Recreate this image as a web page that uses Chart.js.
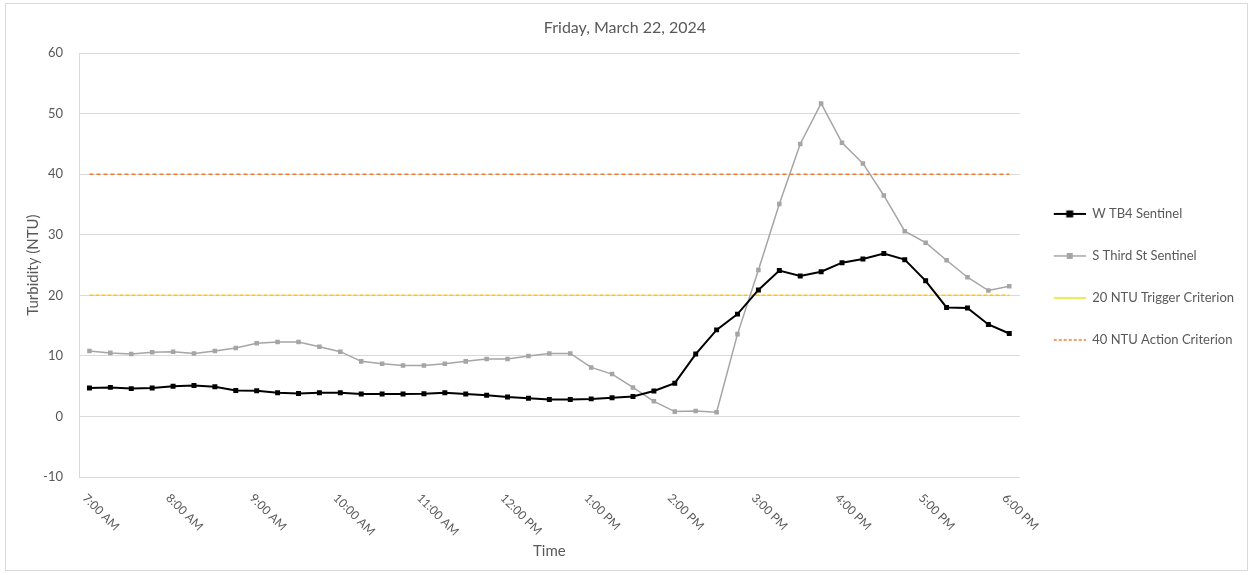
<!DOCTYPE html>
<html>
<head>
<meta charset="utf-8">
<script src="https://cdn.jsdelivr.net/npm/chart.js@4.4.1/dist/chart.umd.min.js"></script>
<style>
html,body{margin:0;padding:0;background:#ffffff;}
#wrap{position:relative;width:1253px;height:575px;}
</style>
</head>
<body>
<div id="wrap"><canvas id="c"></canvas></div>
<script>
// ---- data ----
const timeLabels = [
  '7:00 AM','7:15 AM','7:30 AM','7:45 AM',
  '8:00 AM','8:15 AM','8:30 AM','8:45 AM',
  '9:00 AM','9:15 AM','9:30 AM','9:45 AM',
  '10:00 AM','10:15 AM','10:30 AM','10:45 AM',
  '11:00 AM','11:15 AM','11:30 AM','11:45 AM',
  '12:00 PM','12:15 PM','12:30 PM','12:45 PM',
  '1:00 PM','1:15 PM','1:30 PM','1:45 PM',
  '2:00 PM','2:15 PM','2:30 PM','2:45 PM',
  '3:00 PM','3:15 PM','3:30 PM','3:45 PM',
  '4:00 PM','4:15 PM','4:30 PM','4:45 PM',
  '5:00 PM','5:15 PM','5:30 PM','5:45 PM',
  '6:00 PM'
];
const wTB4Sentinel = [
  4.7, 4.8, 4.6, 4.7, 5.0, 5.1, 4.9, 4.3, 4.25, 3.9, 3.8, 3.9,
  3.9, 3.7, 3.7, 3.7, 3.75, 3.9, 3.7, 3.5, 3.2, 3.0, 2.8, 2.8,
  2.9, 3.1, 3.3, 4.2, 5.5, 10.3, 14.3, 16.9, 20.9, 24.1, 23.2, 23.9,
  25.4, 26.0, 26.9, 25.9, 22.4, 18.0, 17.9, 15.2, 13.7
];
const sThirdStSentinel = [
  10.8, 10.5, 10.3, 10.6, 10.7, 10.4, 10.8, 11.3, 12.1, 12.3, 12.3, 11.5,
  10.7, 9.1, 8.7, 8.4, 8.4, 8.7, 9.1, 9.5, 9.5, 10.0, 10.4, 10.4,
  8.1, 7.0, 4.8, 2.5, 0.8, 0.9, 0.7, 13.6, 24.2, 35.1, 45.0, 51.7,
  45.2, 41.8, 36.5, 30.6, 28.7, 25.8, 23.0, 20.8, 21.5
];
const triggerCriterion = 20;
const actionCriterion = 40;
const seriesNames = ['W TB4 Sentinel', 'S Third St Sentinel', '20 NTU Trigger Criterion', '40 NTU Action Criterion'];
const yMin = -10, yMax = 60, yStep = 10;
const hourEvery = 4;

// ---- styles ----
const TEXT = '#595959';
const FONT = 'Lato, "Open Sans", sans-serif';
const BLACK = '#000000';
const GREY = '#a5a5a5';
const YELLOW = '#FFC800';
const ORANGE = '#ED7D31';

function legendIcon(color, width, dash, marker, mSize) {
  const cv = document.createElement('canvas');
  cv.width = 37; cv.height = 10;
  const g = cv.getContext('2d');
  g.strokeStyle = color; g.lineWidth = width;
  g.setLineDash(dash);
  g.beginPath(); g.moveTo(5, 5); g.lineTo(37, 5); g.stroke();
  if (marker) {
    g.fillStyle = color;
    g.fillRect(21 - mSize / 2, 5 - mSize / 2, mSize, mSize);
  }
  return cv;
}
const icons = [
  legendIcon(BLACK, 2, [], true, 7),
  legendIcon(GREY, 1.5, [], true, 6),
  legendIcon('#E4E81A', 1.5, [], false, 0),
  legendIcon(ORANGE, 1.5, [3, 2], false, 0)
];

const framePlugin = {
  id: 'frame',
  beforeDraw(chart) {
    const ctx = chart.ctx;
    ctx.save();
    ctx.fillStyle = '#ffffff';
    ctx.fillRect(0, 0, chart.width, chart.height);
    ctx.strokeStyle = '#d9d9d9';
    ctx.lineWidth = 1;
    ctx.strokeRect(5.5, 3.5, chart.width - 11, chart.height - 8);
    ctx.restore();
  }
};

const xLabelPlugin = {
  id: 'xLabels',
  afterDraw(chart) {
    const ctx = chart.ctx;
    const xs = chart.scales.x;
    const bottom = chart.chartArea.bottom;
    ctx.save();
    ctx.fillStyle = TEXT;
    ctx.font = '12px ' + FONT;
    ctx.textAlign = 'left';
    ctx.textBaseline = 'middle';
    timeLabels.forEach((lab, i) => {
      if (i % hourEvery !== 0) return;
      const x = xs.getPixelForValue(i);
      ctx.save();
      ctx.translate(x - 5, bottom + 19);
      ctx.rotate(Math.PI / 4);
      ctx.fillText(lab, 0, 0);
      ctx.restore();
    });
    ctx.restore();
  }
};

new Chart(document.getElementById('c'), {
  type: 'line',
  data: {
    labels: timeLabels,
    datasets: [
      {
        label: seriesNames[0], data: wTB4Sentinel,
        borderColor: BLACK, backgroundColor: BLACK, borderWidth: 2,
        pointStyle: 'rect', pointRadius: 3.5, pointBackgroundColor: BLACK, pointBorderColor: BLACK, pointBorderWidth: 0,
        tension: 0
      },
      {
        label: seriesNames[1], data: sThirdStSentinel,
        borderColor: GREY, backgroundColor: GREY, borderWidth: 1.5,
        pointStyle: 'rect', pointRadius: 3.2, pointBackgroundColor: GREY, pointBorderColor: GREY, pointBorderWidth: 0,
        tension: 0
      },
      {
        label: seriesNames[2], data: timeLabels.map(() => triggerCriterion),
        borderColor: YELLOW, borderWidth: 1.5, borderDash: [4, 2], pointRadius: 0, tension: 0
      },
      {
        label: seriesNames[3], data: timeLabels.map(() => actionCriterion),
        borderColor: ORANGE, borderWidth: 1.5, borderDash: [4, 3], pointRadius: 0, tension: 0
      }
    ]
  },
  options: {
    responsive: true,
    maintainAspectRatio: false,
    animation: false,
    layout: { padding: { left: 6, right: 9, top: 8, bottom: 10 } },
    plugins: {
      title: {
        display: true, text: 'Friday, March 22, 2024', color: TEXT,
        font: { family: FONT, size: 16, weight: 'normal' },
        padding: { top: 10, bottom: 16 }
      },
      legend: {
        position: 'right',
        align: 'start',
        title: { display: true, text: '', font: { size: 12 }, padding: { top: 156, bottom: 0 } },
        labels: {
          color: TEXT,
          font: { family: FONT, size: 13 },
          usePointStyle: true,
          pointStyleWidth: 37,
          padding: 29,
          generateLabels(chart) {
            return chart.data.datasets.map((ds, i) => ({
              text: ds.label,
              fillStyle: ds.borderColor,
              strokeStyle: ds.borderColor,
              lineWidth: 0,
              hidden: false,
              datasetIndex: i,
              pointStyle: icons[i],
              fontColor: TEXT
            }));
          }
        }
      },
      tooltip: { enabled: false }
    },
    scales: {
      x: {
        type: 'category',
        offset: true,
        grid: { display: false, drawTicks: false },
        border: { display: false },
        ticks: { display: false },
        title: {
          display: true, text: 'Time', color: TEXT,
          font: { family: FONT, size: 15 },
          padding: { top: 65, bottom: 5 }
        }
      },
      y: {
        min: yMin, max: yMax,
        ticks: { stepSize: yStep, color: TEXT, font: { family: FONT, size: 13 }, padding: 16 },
        grid: { color: '#d9d9d9', lineWidth: 1, drawTicks: false },
        border: { display: true, color: '#d9d9d9' },
        title: {
          display: true, text: 'Turbidity (NTU)', color: TEXT,
          font: { family: FONT, size: 15 },
          padding: { top: 18, bottom: 0 }
        },
        afterFit(scale) { scale.width = 73; }
      }
    }
  },
  plugins: [framePlugin, xLabelPlugin]
});
</script>
</body>
</html>
